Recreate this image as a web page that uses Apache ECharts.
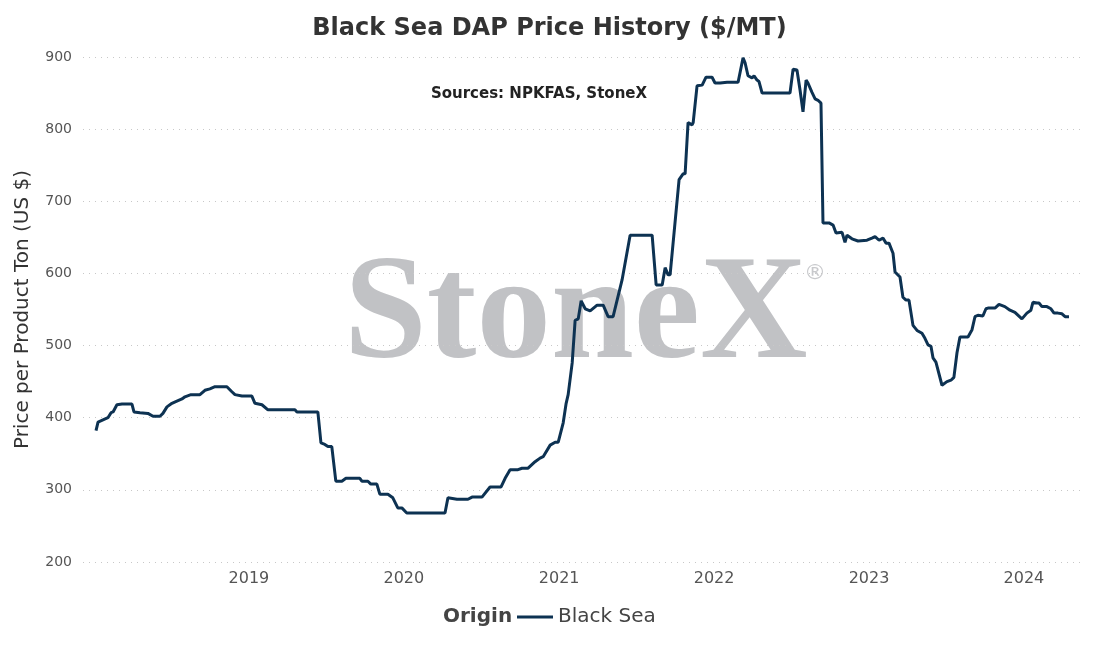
<!DOCTYPE html>
<html>
<head>
<meta charset="utf-8">
<script src="https://cdn.jsdelivr.net/npm/echarts@6/dist/echarts.min.js"></script>
<style>
  html, body { margin: 0; padding: 0; background: #fff; }
  #chart { width: 1099px; height: 649px; }
</style>
</head>
<body>
<div id="chart"></div>
<script>
// dates as decimal years
const dates = [
  2018.013, 2018.026, 2018.058, 2018.090, 2018.110, 2018.123, 2018.148, 2018.181, 2018.245, 2018.258,
  2018.297, 2018.348, 2018.381, 2018.426, 2018.445, 2018.471, 2018.503, 2018.535, 2018.568, 2018.587,
  2018.626, 2018.684, 2018.716, 2018.748, 2018.781, 2018.858, 2018.890, 2018.910, 2018.955, 2019.019,
  2019.039, 2019.084, 2019.123, 2019.297, 2019.310, 2019.445, 2019.465, 2019.490, 2019.510, 2019.535,
  2019.561, 2019.600, 2019.626, 2019.716, 2019.729, 2019.768, 2019.787, 2019.826, 2019.845, 2019.897,
  2019.929, 2019.961, 2019.987, 2020.019, 2020.265, 2020.284, 2020.342, 2020.413, 2020.439, 2020.503,
  2020.555, 2020.626, 2020.652, 2020.684, 2020.735, 2020.761, 2020.800, 2020.845, 2020.877, 2020.897,
  2020.942, 2020.974, 2020.994, 2021.026, 2021.045, 2021.058, 2021.084, 2021.103, 2021.123, 2021.142,
  2021.168, 2021.200, 2021.245, 2021.284, 2021.316, 2021.348, 2021.406, 2021.458, 2021.600, 2021.626,
  2021.665, 2021.684, 2021.703, 2021.716, 2021.774, 2021.800, 2021.813, 2021.832, 2021.858, 2021.865,
  2021.890, 2021.923, 2021.948, 2021.987, 2022.006, 2022.039, 2022.084, 2022.155, 2022.187, 2022.200,
  2022.219, 2022.245, 2022.258, 2022.277, 2022.290, 2022.310, 2022.490, 2022.510, 2022.535, 2022.555,
  2022.574, 2022.594, 2022.606, 2022.632, 2022.652, 2022.671, 2022.690, 2022.703, 2022.742, 2022.768,
  2022.787, 2022.826, 2022.845, 2022.858, 2022.890, 2022.929, 2022.987, 2023.019, 2023.039, 2023.065,
  2023.090, 2023.110, 2023.129, 2023.155, 2023.168, 2023.200, 2023.219, 2023.239, 2023.258, 2023.284,
  2023.310, 2023.342, 2023.361, 2023.381, 2023.400, 2023.413, 2023.432, 2023.471, 2023.503, 2023.529,
  2023.548, 2023.568, 2023.587, 2023.639, 2023.665, 2023.684, 2023.703, 2023.735, 2023.755, 2023.768,
  2023.813, 2023.839, 2023.877, 2023.910, 2023.942, 2023.987, 2024.019, 2024.045, 2024.058, 2024.084,
  2024.097, 2024.116, 2024.148, 2024.174, 2024.194, 2024.219, 2024.245, 2024.265, 2024.290
];
const blackSea = [
  382, 394, 397, 400, 407, 408, 418, 419, 419, 408,
  407, 406, 402, 402, 406, 415, 420, 423, 426, 429,
  432, 432, 438, 440, 443, 443, 436, 432, 430, 430,
  420, 418, 411, 411, 408, 408, 365, 363, 360, 360,
  312, 312, 316, 316, 312, 312, 308, 308, 294, 294,
  289, 275, 275, 268, 268, 289, 287, 287, 290, 290,
  304, 304, 316, 328, 328, 330, 330, 339, 344, 346,
  362, 366, 366, 393, 420, 432, 476, 535, 537, 562,
  551, 548, 556, 556, 540, 540, 591, 653, 653, 584,
  584, 608, 598, 598, 730, 738, 738, 809, 806, 809,
  860, 861, 872, 872, 864, 864, 865, 865, 899, 892,
  874, 871, 874, 868, 866, 850, 850, 883, 882, 854,
  824, 868, 864, 851, 842, 840, 836, 670, 670, 667,
  656, 657, 643, 653, 648, 645, 646, 649, 651, 646,
  649, 642, 642, 628, 602, 595, 567, 563, 563, 528,
  521, 517, 510, 501, 499, 483, 477, 445, 450, 452,
  456, 490, 512, 512, 522, 540, 542, 541, 551, 552,
  552, 557, 554, 549, 546, 537, 545, 549, 560, 559,
  559, 554, 554, 551, 545, 545, 544, 540, 540
];
const yearLabels = ['2019', '2020', '2021', '2022', '2023', '2024'];
const axisRange = [2017.929, 2024.361];

function toTime(dec) {
  const y = Math.floor(dec);
  const a = new Date(y, 0, 1).getTime();
  const b = new Date(y + 1, 0, 1).getTime();
  return a + (dec - y) * (b - a);
}

const seriesData = dates.map((d, i) => [toTime(d), blackSea[i]]);

const chart = echarts.init(document.getElementById('chart'));
const YEAR = 365 * 24 * 3600 * 1000;
const FONT = '"DejaVu Sans", Verdana, sans-serif';

const option = {
  backgroundColor: '#fff',
  animation: false,
  title: {
    text: 'Black Sea DAP Price History ($/MT)',
    left: 'center',
    top: 12,
    textStyle: { fontFamily: FONT, fontSize: 24, fontWeight: 'bold', color: '#333' }
  },
  grid: { left: 83, right: 19, top: 57, bottom: 87 },
  legend: {
    data: ['Black Sea'],
    left: 512,
    top: 602,
    itemWidth: 36,
    itemHeight: 3,
    itemGap: 6,
    icon: 'rect',
    textStyle: { fontFamily: FONT, fontSize: 20, color: '#444' }
  },
  graphic: [
    {
      type: 'text',
      x: 443,
      y: 617,
      style: { text: 'Origin', font: 'bold 20px ' + FONT, fill: '#444', verticalAlign: 'middle' }
    },
    {
      type: 'text',
      x: 539,
      y: 94,
      z: 10,
      style: { text: 'Sources: NPKFAS, StoneX', font: 'bold 15px ' + FONT, fill: '#222', align: 'center', verticalAlign: 'middle' }
    },
    {
      type: 'text',
      x: 344,
      y: 244,
      z: -1,
      style: { text: 'StoneX', font: 'bold 149px "Liberation Serif"', fill: '#c1c2c5', verticalAlign: 'top' }
    },
    {
      type: 'text',
      x: 815,
      y: 273,
      z: -1,
      style: { text: '®', font: '22px ' + FONT, fill: '#c8c9cc', align: 'center', verticalAlign: 'middle' }
    }
  ],
  xAxis: {
    type: 'time',
    min: toTime(axisRange[0]),
    max: toTime(axisRange[1]),
    minInterval: YEAR,
    maxInterval: YEAR * 1.01,
    axisLine: { show: false },
    axisTick: { show: false },
    splitLine: { show: false },
    axisLabel: {
      fontFamily: FONT,
      fontSize: 16,
      color: '#555',
      margin: 9,
      hideOverlap: false,
      formatter: function (v) {
        const d = new Date(v);
        const label = String(d.getFullYear());
        return (d.getMonth() === 0 && yearLabels.indexOf(label) >= 0) ? label : '';
      }
    }
  },
  yAxis: {
    type: 'value',
    min: 200,
    max: 900,
    interval: 100,
    name: 'Price per Product Ton (US $)',
    nameLocation: 'middle',
    nameGap: 50,
    nameTextStyle: { fontFamily: FONT, fontSize: 20, color: '#333' },
    axisLine: { show: false },
    axisTick: { show: false },
    axisLabel: { fontFamily: FONT, fontSize: 14, color: '#555', margin: 11 },
    splitLine: { lineStyle: { type: [1, 5], color: '#c8c8c8', width: 1 } }
  },
  series: [
    {
      name: 'Black Sea',
      type: 'line',
      data: seriesData,
      showSymbol: false,
      symbol: 'none',
      lineStyle: { color: '#0d3252', width: 3 },
      itemStyle: { color: '#0d3252' },
      z: 5
    }
  ]
};

chart.setOption(option);
</script>
</body>
</html>
